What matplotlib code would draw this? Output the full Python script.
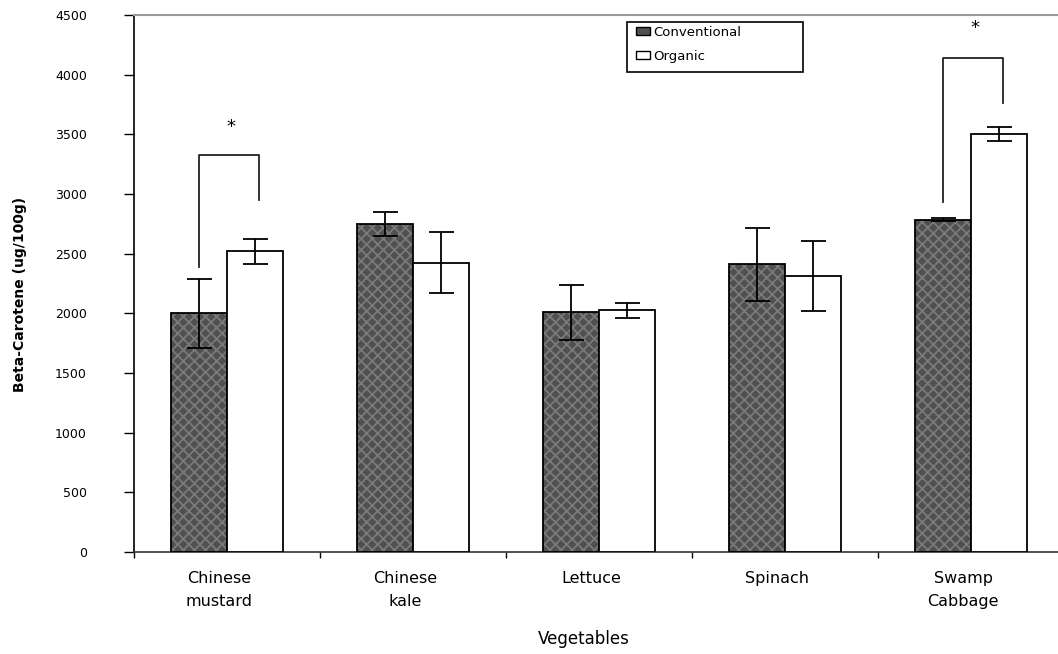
import matplotlib
matplotlib.use("Agg")
import matplotlib.pyplot as plt
import matplotlib.transforms as mtransforms
from matplotlib.patches import Patch, Rectangle
import numpy as np

vegetables = ["Chinese\nmustard", "Chinese\nkale", "Lettuce", "Spinach", "Swamp\nCabbage"]
conventional = [2000, 2750, 2010, 2410, 2785]
conventional_err = [290, 100, 230, 305, 15]
organic = [2520, 2425, 2025, 2310, 3505]
organic_err = [105, 258, 62, 293, 60]

# significance brackets: (vegetable index, left foot, top, right foot, star height)
sig_index = [0, 4]
sig_left = [2390, 2935]
sig_top = [3330, 4137]
sig_right = [2950, 3765]
sig_star = [3560, 4390]

plt.rcParams["hatch.linewidth"] = 1.3

fig = plt.figure(figsize=(10.58, 6.54), dpi=100)
ax = fig.add_axes([0.1267, 0.156, 0.879, 0.8212])

x = np.arange(len(vegetables))
w = 0.3

# conventional bars: dark fill, lighter cross hatch, black outline
ax.bar(x - w / 2, conventional, w, color="#505050", edgecolor="none", zorder=2)
ax.bar(x - w / 2, conventional, w, color="none", edgecolor="#7a7a7a", hatch="xxx",
       linewidth=0, zorder=2)
ax.bar(x - w / 2, conventional, w, color="none", edgecolor="black", linewidth=1.3, zorder=3)
ax.bar(x + w / 2, organic, w, color="white", edgecolor="black", linewidth=1.3, zorder=3)

ax.errorbar(x - w / 2, conventional, yerr=conventional_err, fmt="none", ecolor="black",
            elinewidth=1.3, capsize=9, capthick=1.3, zorder=4)
ax.errorbar(x + w / 2, organic, yerr=organic_err, fmt="none", ecolor="black",
            elinewidth=1.3, capsize=9, capthick=1.3, zorder=4)

for i, yl, yt, yr, ys in zip(sig_index, sig_left, sig_top, sig_right, sig_star):
    ax.plot([i - w / 2, i - w / 2, i + w / 2 + 0.02, i + w / 2 + 0.02], [yl, yt, yt, yr],
            color="#222222", linewidth=1.3, zorder=4)
    ax.text(i + 0.02, ys, "*", ha="center", va="center", fontsize=13, color="black")

ax.set_xlim(-0.5, len(vegetables) - 0.5)
ax.set_ylim(0, 4500)
ax.set_yticks(np.arange(0, 4501, 500))
ax.tick_params(axis="y", direction="out", length=7, width=1, pad=27, labelsize=9)

ax.set_xticks(x)
ax.set_xticklabels(vegetables, fontsize=11.5, linespacing=1.6)
ax.set_xticks(np.arange(-0.5, len(vegetables), 1.0), minor=True)
ax.tick_params(axis="x", which="major", length=0, pad=14)
ax.tick_params(axis="x", which="minor", direction="out", length=4, width=1)
shift = mtransforms.ScaledTranslation(-8 / 100, 0, fig.dpi_scale_trans)
for lab in ax.get_xticklabels():
    lab.set_transform(lab.get_transform() + shift)

ax.set_xlabel("Vegetables", fontsize=12)
ax.xaxis.set_label_coords(0.484, -0.145)
ax.set_ylabel("Beta-Carotene (ug/100g)", fontsize=10, fontweight="bold")
ax.yaxis.set_label_coords(-0.1155, 0.48)

ax.spines["left"].set_linewidth(1.2)
ax.spines["bottom"].set_linewidth(1.2)
ax.spines["bottom"].set_color("#333333")
ax.spines["top"].set_color("#9a9a9a")
ax.spines["top"].set_linewidth(1.5)
ax.spines["right"].set_visible(False)

# legend entries without frame, box drawn separately so it can be wider
handles = [
    Patch(facecolor="#505050", edgecolor="black", linewidth=1),
    Patch(facecolor="white", edgecolor="black", linewidth=1),
]
fig.legend(handles, ["Conventional", "Organic"], loc="upper left",
           bbox_to_anchor=(633 / 1058, 1 - 23 / 654), fontsize=9.5,
           frameon=False, borderpad=0.2, handlelength=1.1,
           handleheight=0.55, handletextpad=0.2, labelspacing=0.85,
           borderaxespad=0)
fig.patches.append(Rectangle((627 / 1058, 1 - 72 / 654), 176 / 1058, 50 / 654,
                             transform=fig.transFigure, facecolor="none",
                             edgecolor="black", linewidth=1.2, zorder=5))

fig.savefig("out.png", dpi=100)
